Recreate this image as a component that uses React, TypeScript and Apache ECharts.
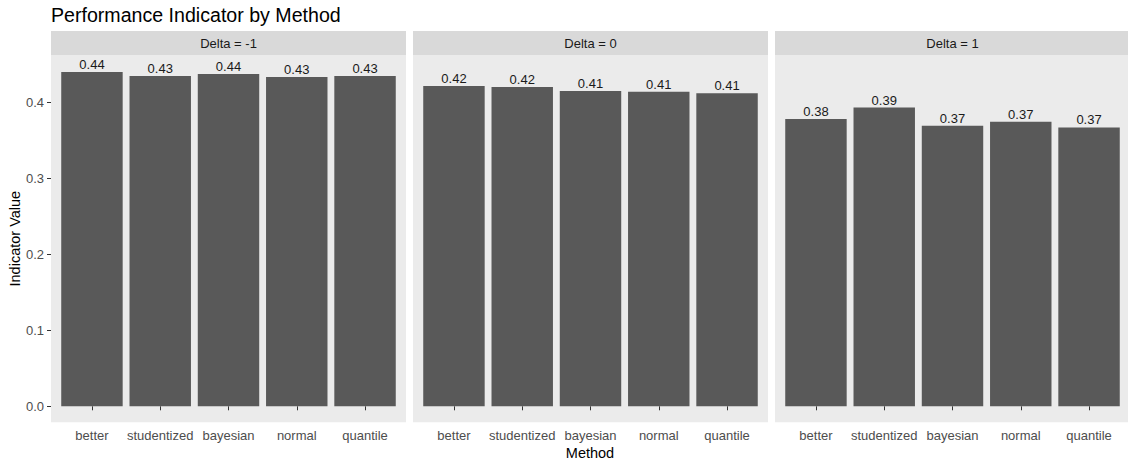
import React, { useEffect, useRef } from "react";
import * as echarts from "echarts";

const methods = ["better", "studentized", "bayesian", "normal", "quantile"];
const facetLabels = ["Delta = -1", "Delta = 0", "Delta = 1"];
const valuesDeltaMinus1 = [0.44, 0.4346, 0.4372, 0.4333, 0.4346];
const valuesDelta0 = [0.4214, 0.4201, 0.4148, 0.414, 0.4118];
const valuesDelta1 = [0.378, 0.393, 0.3692, 0.3745, 0.367];
const yTickValues = [0, 0.1, 0.2, 0.3, 0.4];
const titleText = "Performance Indicator by Method";
const xTitle = "Method";
const yTitle = "Indicator Value";

const seriesValues = [valuesDeltaMinus1, valuesDelta0, valuesDelta1];

const FONT = "Liberation Sans, Arial, sans-serif";
const SMALL = 13;

export default function App() {
  const ref = useRef<HTMLDivElement>(null);

  useEffect(() => {
    if (!ref.current) return;
    const chart = echarts.init(ref.current, null, { renderer: "svg" });

    const panelLefts = [51, 413, 775];
    const panelW = 355;
    const band = panelW / 5.2;
    const pad = band * 0.1;
    const panelTop = 55;
    const panelBottom = 422.3;
    const stripTop = 31;
    const zeroY = 406.3;
    const pxPerUnit = 760;
    const yMax = 0.45;
    const gridH = yMax * pxPerUnit;

    const grids: any[] = [];
    const xAxes: any[] = [];
    const yAxes: any[] = [];
    const series: any[] = [];
    const elements: any[] = [];

    panelLefts.forEach((pl, i) => {
      grids.push({
        left: pl + pad,
        width: panelW - 2 * pad,
        top: zeroY - gridH,
        height: gridH,
        containLabel: false,
      });
      xAxes.push({
        type: "category",
        gridIndex: i,
        data: methods,
        offset: panelBottom - zeroY,
        axisLine: { show: false },
        axisTick: {
          show: true,
          alignWithLabel: true,
          length: 4,
          lineStyle: { color: "#333333", width: 1 },
        },
        axisLabel: {
          show: true,
          margin: 7,
          color: "#4D4D4D",
          fontSize: SMALL,
          fontFamily: FONT,
          interval: 0,
        },
        splitLine: { show: false },
      });
      yAxes.push({
        type: "value",
        gridIndex: i,
        min: 0,
        max: yMax,
        offset: pad,
        axisLine: { show: false },
        axisTick: {
          show: i === 0,
          length: 4,
          customValues: yTickValues,
          lineStyle: { color: "#333333", width: 1 },
        },
        axisLabel: {
          show: i === 0,
          margin: 7,
          customValues: yTickValues,
          color: "#4D4D4D",
          fontSize: SMALL,
          fontFamily: FONT,
          formatter: (v: number) => v.toFixed(1),
        },
        splitLine: { show: false },
      });
      series.push({
        type: "bar",
        xAxisIndex: i,
        yAxisIndex: i,
        data: seriesValues[i],
        barCategoryGap: "10%",
        itemStyle: { color: "#595959" },
        label: {
          show: true,
          position: "top",
          distance: 1,
          color: "#1A1A1A",
          fontSize: SMALL,
          fontFamily: FONT,
          formatter: (p: any) => Number(p.value).toFixed(2),
        },
        z: 5,
      });
      elements.push({
        type: "rect",
        z: 0,
        shape: { x: pl, y: panelTop, width: panelW, height: panelBottom - panelTop },
        style: { fill: "#EBEBEB" },
      });
      elements.push({
        type: "rect",
        z: 0,
        shape: { x: pl, y: stripTop, width: panelW, height: panelTop - stripTop },
        style: { fill: "#D9D9D9" },
      });
      elements.push({
        type: "text",
        z: 1,
        x: pl + panelW / 2,
        y: (stripTop + panelTop) / 2,
        style: {
          text: facetLabels[i],
          fill: "#1A1A1A",
          fontSize: SMALL,
          fontFamily: FONT,
          align: "center",
          verticalAlign: "middle",
        },
      });
    });

    elements.push({
      type: "text",
      z: 1,
      x: 51,
      y: 15,
      style: {
        text: titleText,
        fill: "#000000",
        fontSize: 19.6,
        fontFamily: FONT,
        align: "left",
        verticalAlign: "middle",
      },
    });
    elements.push({
      type: "text",
      z: 1,
      x: 590,
      y: 452.5,
      style: {
        text: xTitle,
        fill: "#000000",
        fontSize: 14.5,
        fontFamily: FONT,
        align: "center",
        verticalAlign: "middle",
      },
    });
    elements.push({
      type: "text",
      z: 1,
      x: 15,
      y: (panelTop + panelBottom) / 2,
      rotation: Math.PI / 2,
      style: {
        text: yTitle,
        fill: "#000000",
        fontSize: 14.5,
        fontFamily: FONT,
        align: "center",
        verticalAlign: "middle",
      },
    });

    chart.setOption({
      animation: false,
      backgroundColor: "#FFFFFF",
      grid: grids,
      xAxis: xAxes,
      yAxis: yAxes,
      series,
      graphic: { elements },
    });

    return () => chart.dispose();
  }, []);

  return (
    <div
      ref={ref}
      style={{ position: "absolute", left: 0, top: 0, width: 1128, height: 464 }}
    />
  );
}
